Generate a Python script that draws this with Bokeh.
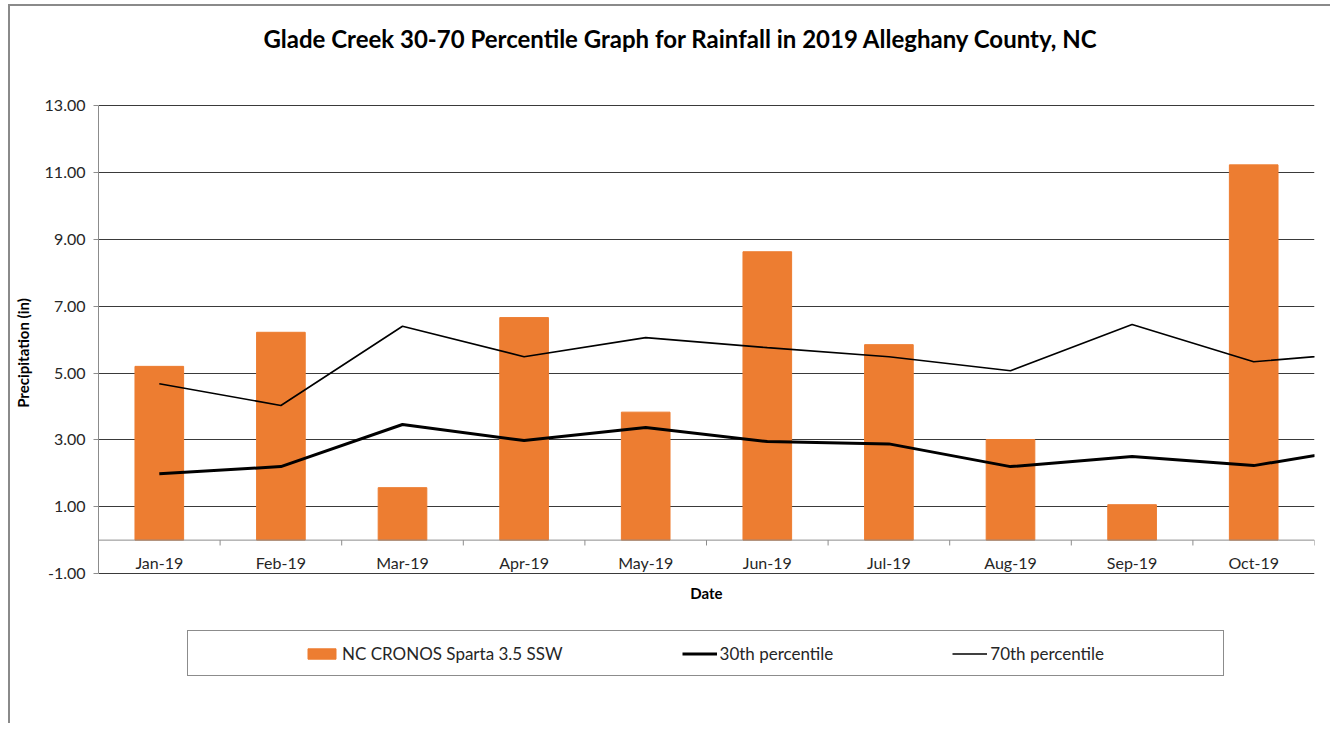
from bokeh.plotting import figure
from bokeh.models import (ColumnDataSource, Range1d, FixedTicker, Legend, LegendItem,
                          NumeralTickFormatter, Span)
from bokeh.embed import file_html
from bokeh.resources import INLINE
from bokeh.core.properties import value

# ---------------- data ----------------
months = ["Jan-19", "Feb-19", "Mar-19", "Apr-19", "May-19", "Jun-19",
          "Jul-19", "Aug-19", "Sep-19", "Oct-19"]
rainfall = [5.20, 6.22, 1.57, 6.66, 3.83, 8.63, 5.85, 3.01, 1.06, 11.23]
# percentile series continue one month past the visible categories (Nov-19)
pct30 = [1.99, 2.20, 3.46, 2.98, 3.37, 2.95, 2.88, 2.20, 2.50, 2.23, 2.83]
pct70 = [4.68, 4.03, 6.40, 5.49, 6.06, 5.76, 5.49, 5.07, 6.45, 5.34, 5.64]
y_ticks = [-1, 1, 3, 5, 7, 9, 11, 13]

title_text = "Glade Creek 30-70 Percentile Graph for Rainfall in 2019 Alleghany County, NC"
x_title = "Date"
y_title = "Precipitation (in)"
series_names = ["NC CRONOS Sparta 3.5 SSW", "30th percentile", "70th percentile"]

FONT = "Lato"
ORANGE = "#ED7D31"
TXT = "#262626"
AXIS_GRAY = "#8c8c8c"

idx = list(range(len(months)))
idx_ext = list(range(len(pct30)))
bar_src = ColumnDataSource(dict(x=idx, top=rainfall, label=months))
line_src = ColumnDataSource(dict(x=idx_ext, p30=pct30, p70=pct70))
bounds = [i - 0.5 for i in range(len(months) + 1)]
tick_src = ColumnDataSource(dict(x=bounds, y0=[0] * len(bounds), y1=[-0.16] * len(bounds)))

# ---------------- figure ----------------
# the frame extends above and below the value axis so that the chart title and
# the legend box are placed inside it; grid and axis are limited to the tick span
y_low, y_high = -4.5, 15.7
p = figure(frame_width=1216, frame_height=675,
           x_range=Range1d(-0.5, len(months) - 0.5), y_range=Range1d(y_low, y_high),
           output_backend="svg", toolbar_location=None,
           min_border_left=88, min_border_top=9, min_border_right=16, min_border_bottom=33)
p.styles = {"border-left": "2px solid #8a8a8a", "border-top": "2px solid #8a8a8a",
            "margin-left": "8px", "margin-top": "4px"}
p.outline_line_color = None

# grid
p.xgrid.visible = False
p.ygrid.ticker = FixedTicker(ticks=y_ticks)
p.ygrid.grid_line_color = "#3a3a3a"
p.ygrid.grid_line_width = 1

# y axis
p.yaxis.ticker = FixedTicker(ticks=y_ticks)
p.yaxis.bounds = (min(y_ticks), max(y_ticks))
p.yaxis.formatter = NumeralTickFormatter(format="0.00")
p.yaxis.axis_line_color = AXIS_GRAY
p.yaxis.major_tick_line_color = AXIS_GRAY
p.yaxis.major_tick_out = 5
p.yaxis.major_tick_in = 0
p.yaxis.minor_tick_line_color = None
p.yaxis.major_label_text_font = FONT
p.yaxis.major_label_text_font_size = "16px"
p.yaxis.major_label_text_color = TXT
p.yaxis.major_label_standoff = 8
p.yaxis.axis_label = y_title
p.yaxis.axis_label_text_font = FONT
p.yaxis.axis_label_text_font_size = "15px"
p.yaxis.axis_label_text_font_style = "bold"
p.yaxis.axis_label_text_color = "#000000"
p.yaxis.axis_label_standoff = 10
p.xaxis.visible = False

bars = p.vbar(x="x", top="top", bottom=0, width=0.4, source=bar_src,
              fill_color=ORANGE, line_color=ORANGE)
l30 = p.line(x="x", y="p30", source=line_src, line_color="#000000", line_width=3)
l70 = p.line(x="x", y="p70", source=line_src, line_color="#000000", line_width=1.6)

# category axis crossing at zero
p.add_layout(Span(location=0, dimension="width", line_color=AXIS_GRAY, line_width=1))
p.segment(x0="x", y0="y0", x1="x", y1="y1", source=tick_src, line_color=AXIS_GRAY, line_width=1)
p.text(x="x", y=-0.68, text="label", source=bar_src, text_align="center",
       text_baseline="middle", text_font=value(FONT), text_font_size="16px", text_color=TXT)

# category axis title
p.text(x=[(len(months) - 1) / 2], y=[-1.57], text=[x_title], text_align="center",
       text_baseline="middle", text_font=value(FONT), text_font_size="15px",
       text_font_style="bold", text_color="#000000")

# chart title (centred on the whole chart area, which is wider than the plot area)
p.text(x=[4.29], y=[15.0], text=[title_text], text_align="center",
       text_baseline="middle", text_font=value(FONT), text_font_size="24px",
       text_font_style="bold", text_color="#000000")

# ---------------- legend ----------------
ghost = p.vbar(x="x", top="top", bottom=0, width=0.4, source=bar_src,
               fill_alpha=0, line_alpha=0)
box = Legend(items=[LegendItem(label="", renderers=[ghost])],
             location=(89, 14), padding=0, margin=0, spacing=0,
             glyph_width=1035, glyph_height=44, label_standoff=0, label_width=0,
             label_height=0, label_text_font_size="1px",
             border_line_color="#1a1a1a", border_line_width=1.5,
             background_fill_color="white", background_fill_alpha=1)
p.add_layout(box)

legend = Legend(items=[LegendItem(label=series_names[0], renderers=[bars]),
                       LegendItem(label=series_names[1], renderers=[l30]),
                       LegendItem(label=series_names[2], renderers=[l70])],
                orientation="horizontal", location=(206, 26),
                border_line_alpha=0, background_fill_alpha=0, padding=0, margin=0,
                spacing=119, glyph_width=35, glyph_height=13, label_standoff=3,
                label_text_font=FONT, label_text_font_size="17px", label_text_color=TXT)
p.add_layout(legend)

open("out.html", "w").write(file_html(p, INLINE))
